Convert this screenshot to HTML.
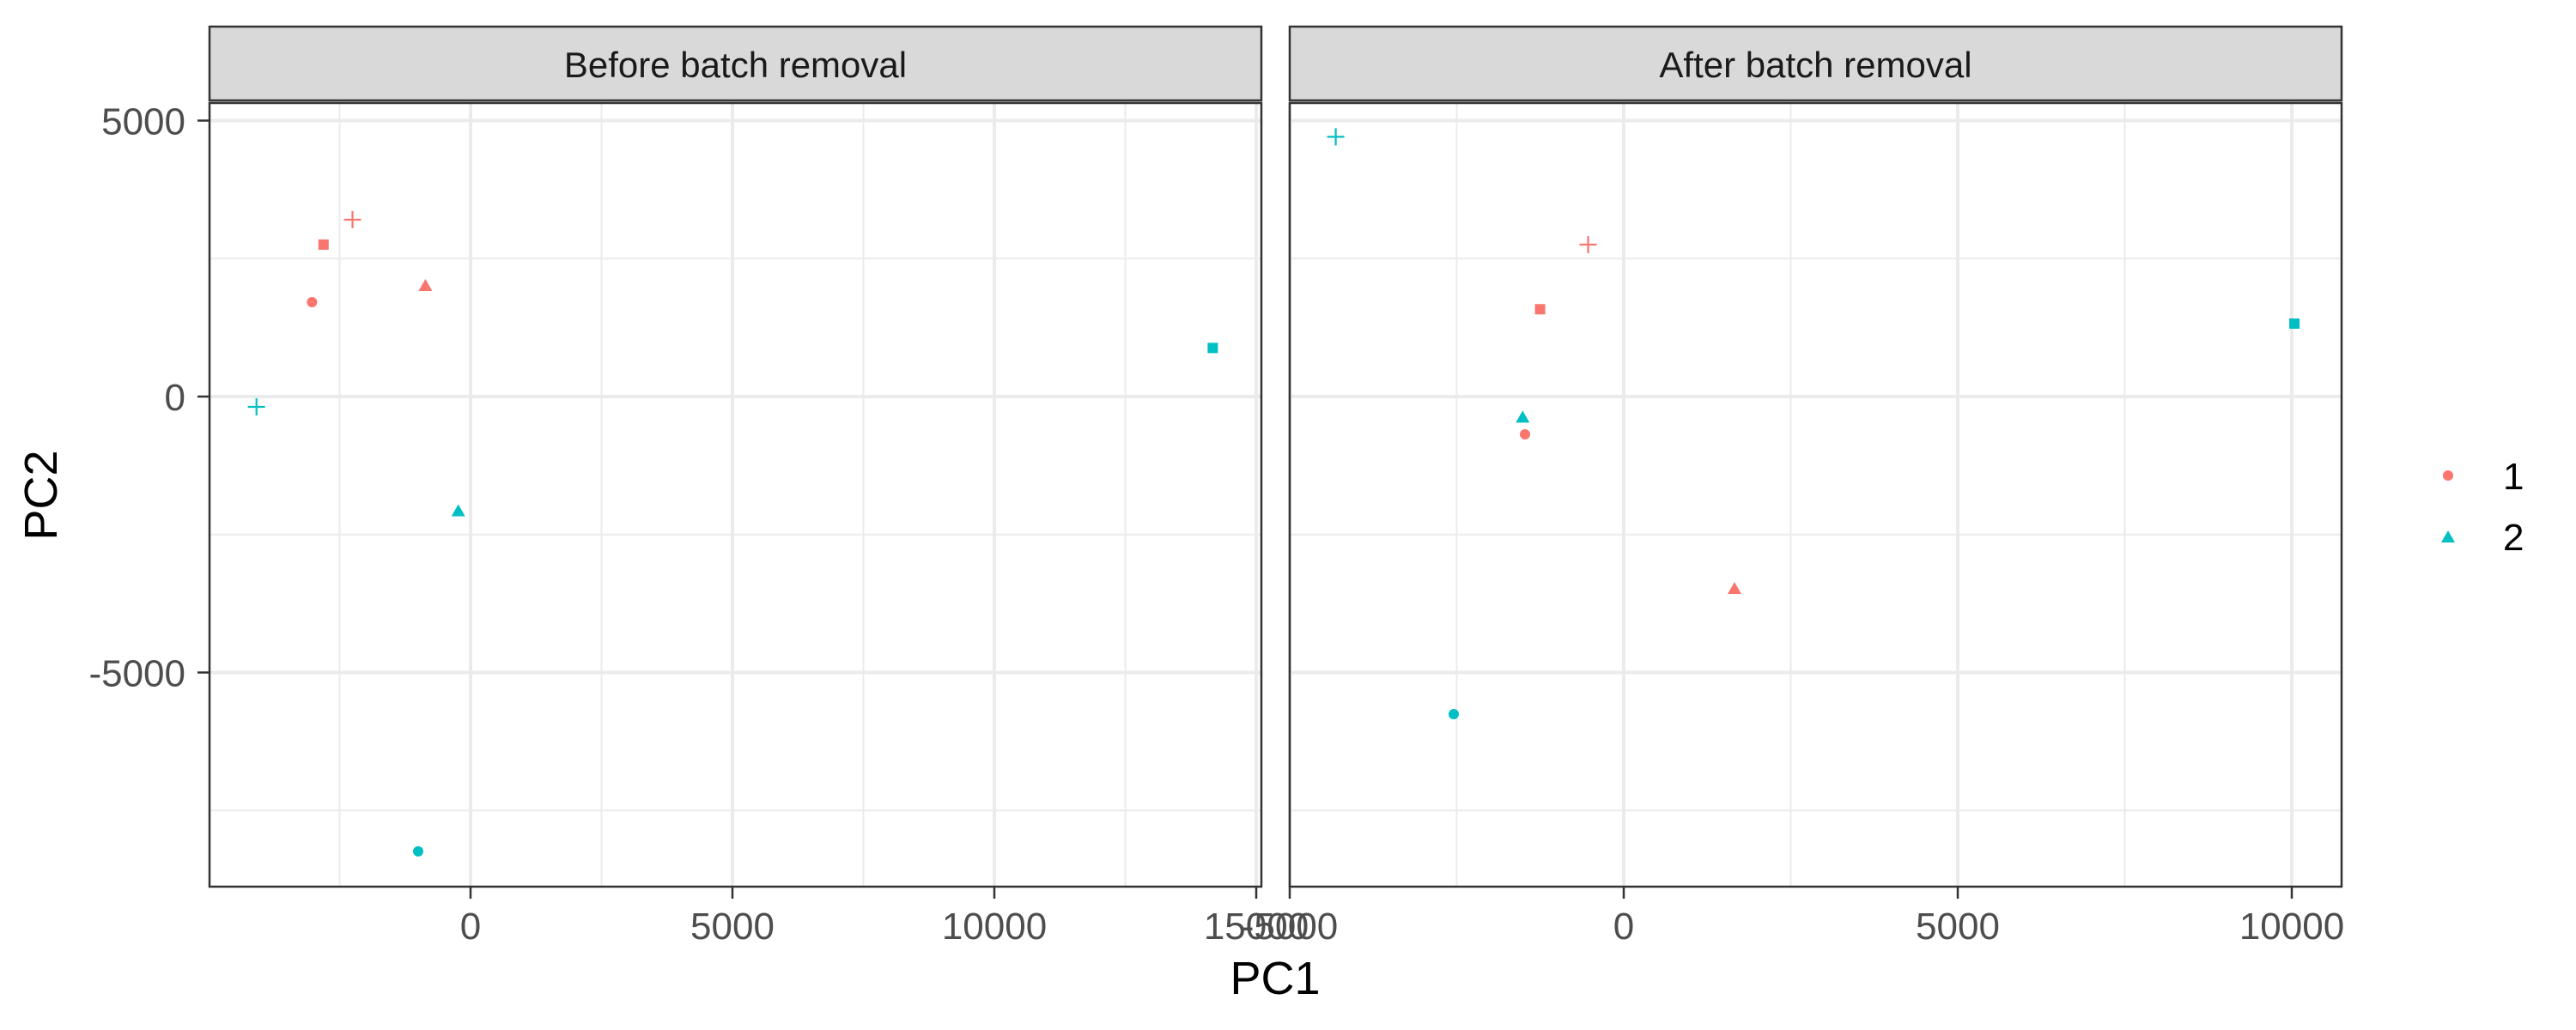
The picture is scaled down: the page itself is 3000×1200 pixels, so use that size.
<!DOCTYPE html>
<html><head><meta charset="utf-8"><style>
html,body{margin:0;padding:0;background:#fff;}
svg{display:block;font-family:"Liberation Sans",Arial,sans-serif;}
</style></head><body>
<svg id="chart" width="3000" height="1200" viewBox="0 0 3000 1200" xmlns="http://www.w3.org/2000/svg">
<rect width="3000" height="1200" fill="#fff"/>
<g id="layer"></g>
</svg>
<script>
const panelTitles = ["Before batch removal", "After batch removal"];
const groups = [1, 2];
const groupColors = ["#F8766D", "#00BFC4"];
const shapesOrder = ["circle", "triangle", "square", "plus"];
// Before panel: group 1 (red)
const beforeG1X = [-3026, -862, -2807, -2254];
const beforeG1Y = [1711, 1990, 2753, 3205];
// Before panel: group 2 (cyan)
const beforeG2X = [-1000, -234, 14170, -4087];
const beforeG2Y = [-8240, -2092, 880, -187];
// After panel: group 1
const afterG1X = [-1478, 1658, -1252, -533];
const afterG1Y = [-684, -3500, 1582, 2753];
// After panel: group 2
const afterG2X = [-2545, -1513, 10039, -4311];
const afterG2Y = [-5754, -395, 1322, 4706];
const yTicks = [-5000, 0, 5000];
const yMinor = [-7500, -2500, 2500];
const beforeXTicks = [0, 5000, 10000, 15000];
const beforeXMinor = [-2500, 2500, 7500, 12500];
const afterXTicks = [-5000, 0, 5000, 10000];
const afterXMinor = [-2500, 2500, 7500];

const NS = "http://www.w3.org/2000/svg";
const layer = document.getElementById("layer");
function mk(tag, attrs, parent) {
  const e = document.createElementNS(NS, tag);
  for (const k in attrs) e.setAttribute(k, attrs[k]);
  (parent || layer).appendChild(e);
  return e;
}
const panelTop = 120, panelBottom = 1033;
const yScale = v => 462 - v * 0.0643;
const panels = [
  { left: 244, right: 1469, x0: 548, k: 0.061, ticks: beforeXTicks, minor: beforeXMinor,
    data: [[beforeG1X, beforeG1Y], [beforeG2X, beforeG2Y]] },
  { left: 1502, right: 2727, x0: 1891, k: 0.0778, ticks: afterXTicks, minor: afterXMinor,
    data: [[afterG1X, afterG1Y], [afterG2X, afterG2Y]] }
];

function drawShape(shape, cx, cy, color, parent) {
  let e;
  if (shape === "circle") e = mk("circle", { cx: cx, cy: cy, r: 6, fill: color }, parent);
  else if (shape === "square") e = mk("rect", { x: cx - 6, y: cy - 6, width: 12, height: 12, fill: color }, parent);
  else if (shape === "triangle") e = mk("polygon", { points: `${cx},${cy - 9} ${cx - 8},${cy + 5} ${cx + 8},${cy + 5}`, fill: color }, parent);
  else e = mk("path", { d: `M${cx - 10},${cy}H${cx + 10}M${cx},${cy - 10}V${cy + 10}`, stroke: color, "stroke-width": 2.2, fill: "none" }, parent);
  return e;
}

panels.forEach((p, pi) => {
  const xs = v => p.x0 + v * p.k;
  const g = mk("g", {});
  
  
  mk("rect", { x: p.left, y: panelTop, width: p.right - p.left, height: panelBottom - panelTop, fill: "#fff" }, g);
  yMinor.forEach(v => { const y = yScale(v); if (y > panelTop && y < panelBottom) mk("line", { x1: p.left, x2: p.right, y1: y, y2: y, stroke: "#ebebeb", "stroke-width": 2 }, g); });
  p.minor.forEach(v => { const x = xs(v); if (x > p.left && x < p.right) mk("line", { x1: x, x2: x, y1: panelTop, y2: panelBottom, stroke: "#ebebeb", "stroke-width": 2 }, g); });
  yTicks.forEach(v => { const y = yScale(v); mk("line", { x1: p.left, x2: p.right, y1: y, y2: y, stroke: "#ebebeb", "stroke-width": 4 }, g); });
  p.ticks.forEach(v => { const x = xs(v); if (x >= p.left - 1 && x <= p.right + 1) mk("line", { x1: x, x2: x, y1: panelTop, y2: panelBottom, stroke: "#ebebeb", "stroke-width": 4 }, g); });
  p.data.forEach((d, gi) => {
    d[0].forEach((xv, i) => {
      const s = drawShape(shapesOrder[i], xs(xv), yScale(d[1][i]), groupColors[gi], g);
      
      
    });
  });
  mk("rect", { x: p.left, y: panelTop, width: p.right - p.left, height: panelBottom - panelTop, fill: "none", stroke: "#333", "stroke-width": 2.5 }, g);
  const strip = mk("rect", { x: p.left, y: 31, width: p.right - p.left, height: 86, fill: "#d9d9d9", stroke: "#333", "stroke-width": 2.5 }, g);
  
  
  const st = mk("text", { x: (p.left + p.right) / 2, y: 90, "text-anchor": "middle", "font-size": 42, fill: "#1a1a1a" }, g);
  st.textContent = panelTitles[pi];
  
  
  p.ticks.forEach(v => {
    const x = xs(v);
    mk("line", { x1: x, x2: x, y1: panelBottom, y2: panelBottom + 14, stroke: "#333", "stroke-width": 2.5 }, g);
    const t = mk("text", { x: x, y: 1094, "text-anchor": "middle", "font-size": 44, fill: "#4d4d4d" }, g);
    t.textContent = v;
    
    
  });
});
yTicks.forEach(v => {
  const y = yScale(v);
  mk("line", { x1: 230, x2: 244, y1: y, y2: y, stroke: "#333", "stroke-width": 2.5 });
  const t = mk("text", { x: 216, y: y + 16, "text-anchor": "end", "font-size": 44, fill: "#4d4d4d" });
  t.textContent = v;
  
  
});
const xt = mk("text", { x: 1485, y: 1158, "text-anchor": "middle", "font-size": 54, fill: "#000" });
xt.textContent = "PC1";


const yt = mk("text", { x: 0, y: 0, "text-anchor": "middle", "font-size": 54, fill: "#000", transform: "translate(66,577) rotate(-90)" });
yt.textContent = "PC2";


const legendShapes = ["circle", "triangle"];
groups.forEach((gv, i) => {
  const y = 554 + i * 71;
  const lg = mk("g", {});
  
  
  drawShape(legendShapes[i], 2851, y + (i === 1 ? 2 : 0), groupColors[i], lg);
  const t = mk("text", { x: 2915, y: y + 16, "font-size": 44, fill: "#000" }, lg);
  t.textContent = gv;
});
</script>
</body></html>
